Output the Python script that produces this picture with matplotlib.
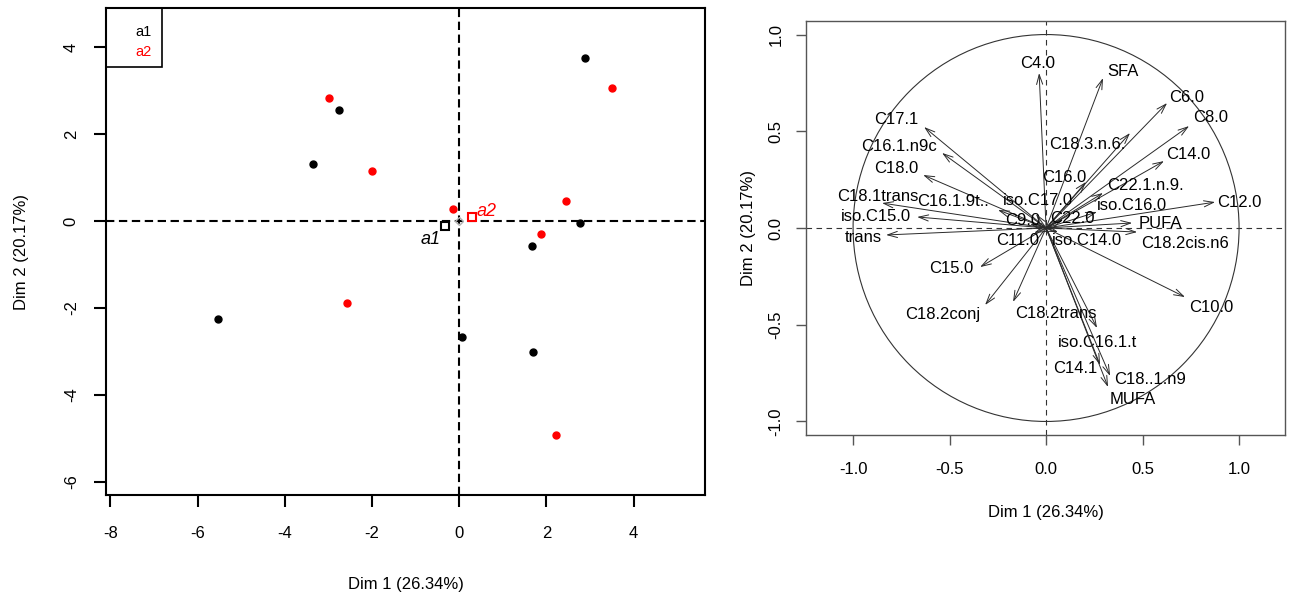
import numpy as np
import matplotlib
matplotlib.use("Agg")
import matplotlib.pyplot as plt
from matplotlib.patches import Circle, Rectangle

plt.rcParams["font.family"] = ["Liberation Sans", "DejaVu Sans"]
plt.rcParams["axes.unicode_minus"] = False

# ---- individuals (PCA scores) grouped by factor level ----
a1_dim1 = [2.89, -2.75, -3.35, 2.78, 1.67, -5.53, 0.07, 1.70]
a1_dim2 = [3.76, 2.56, 1.31, -0.05, -0.58, -2.26, -2.67, -3.02]
a2_dim1 = [-2.98, 3.51, -2.00, -0.14, 2.45, 1.88, -2.57, 2.22]
a2_dim2 = [2.83, 3.06, 1.15, 0.28, 0.46, -0.30, -1.89, -4.93]
groups = ["a1", "a2"]
group_colors = ["black", "red"]

left_xticks = [-8, -6, -4, -2, 0, 2, 4]
left_yticks = [-6, -4, -2, 0, 2, 4]

# ---- variables (correlation circle) ----
var_names = ["C4.0", "SFA", "C6.0", "C8.0", "C18.3.n.6.", "C14.0", "C16.0",
             "C22.1.n.9.", "iso.C16.0", "C12.0", "PUFA", "C18.2cis.n6", "C10.0",
             "iso.C16.1.t", "C14.1", "C18..1.n9", "MUFA", "C17.1", "C16.1.n9c",
             "C18.0", "C18.1trans", "C16.1.9t..", "iso.C15.0", "trans", "C15.0",
             "C18.2conj", "C18.2trans", "C9.0", "C11.0", "iso.C14.0", "C22.0",
             "iso.C17.0"]
var_dim1 = [-0.036, 0.295, 0.627, 0.741, 0.435, 0.611, 0.207,
            0.295, 0.264, 0.876, 0.446, 0.472, 0.720,
            0.264, 0.280, 0.332, 0.321, -0.632, -0.539,
            -0.637, -0.850, -0.249, -0.668, -0.829, -0.342,
            -0.316, -0.171, -0.083, -0.062, 0.062, 0.083,
            -0.052]
var_dim2 = [0.801, 0.775, 0.646, 0.527, 0.491, 0.346, 0.238,
            0.181, 0.083, 0.134, 0.026, -0.021, -0.357,
            -0.517, -0.708, -0.765, -0.822, 0.522, 0.388,
            0.274, 0.129, 0.093, 0.057, -0.036, -0.202,
            -0.398, -0.382, 0.021, -0.026, -0.021, 0.041,
            0.072]

right_ticks = [-1.0, -0.5, 0.0, 0.5, 1.0]
xlab = "Dim 1 (26.34%)"
ylab = "Dim 2 (20.17%)"

# label placement (pixel offsets from arrow tips, chosen to avoid overlaps)
label_offsets = {
    "C4.0": (-2, 10), "SFA": (20, 7), "C6.0": (20, 6), "C8.0": (22, 9),
    "C18.3.n.6.": (-43, -11), "C14.0": (24, 7), "C16.0": (-22, 4),
    "C22.1.n.9.": (42, 7), "iso.C16.0": (35, 6), "C12.0": (24, 0),
    "PUFA": (28, -1), "C18.2cis.n6": (48, -11), "C10.0": (26, -10),
    "iso.C16.1.t": (0, -14), "C14.1": (-25, -4), "C18..1.n9": (40, -4),
    "MUFA": (25, -12), "C17.1": (-28, 8), "C16.1.n9c": (-43, 6),
    "C18.0": (-27, 6), "C18.1trans": (-4, 7), "C16.1.9t..": (-45, 9),
    "iso.C15.0": (-41, 0), "trans": (-23, -3), "C15.0": (-29, -1),
    "C18.2conj": (-42, -10), "C18.2trans": (43, -12), "C9.0": (-7, 3),
    "C11.0": (-16, -7), "iso.C14.0": (29, -8), "C22.0": (10, 2),
    "iso.C17.0": (2, 14),
}

W, H = 1290, 595
fig = plt.figure(figsize=(W / 100, H / 100), dpi=100)

# ================= individuals factor map =================
ax1 = fig.add_axes([106 / W, (H - 495) / H, 599 / W, 487 / H])
ax1.set_xlim(-8.1, 5.64)
ax1.set_ylim(-6.3, 4.9)
ax1.axhline(0, color="black", lw=1.5, ls=(0, (4, 2.2)), zorder=1)
ax1.axvline(0, color="black", lw=1.5, ls=(0, (4, 2.2)), zorder=1)

xs = [a1_dim1, a2_dim1]
ys = [a1_dim2, a2_dim2]
for g, col, gx, gy in zip(groups, group_colors, xs, ys):
    ax1.plot(gx, gy, "o", color=col, ms=5, zorder=3)

# overall barycentre
ax1.plot([0], [0], "D", ms=4, mfc="none", mec="#b0b0b0", mew=1, zorder=2)

# group barycentres
cent_offsets = {"a1": (-15, -13), "a2": (15, 6)}
for g, col, gx, gy in zip(groups, group_colors, xs, ys):
    cx, cy = np.mean(gx), np.mean(gy)
    ax1.plot([cx], [cy], "s", ms=6, mfc="white", mec=col, mew=1.5, zorder=4)
    ax1.annotate(g, (cx, cy), xytext=cent_offsets[g], textcoords="offset pixels",
                 ha="center", va="center", color=col, fontsize=13, style="italic")

# legend box
ax1.add_patch(Rectangle((0, 1 - 59 / 487), 56 / 599, 59 / 487, transform=ax1.transAxes,
                        fill=False, edgecolor="black", lw=1.2, clip_on=False, zorder=5))
for i, (g, col) in enumerate(zip(groups, group_colors)):
    ax1.text((152 - 106) / 599, 1 - (24 + 20 * i) / 487, g, color=col,
             ha="right", va="center", fontsize=10.5, transform=ax1.transAxes)

ax1.set_xticks(left_xticks)
ax1.set_yticks(left_yticks)
for s in ax1.spines.values():
    s.set_linewidth(1.5)
ax1.tick_params(axis="both", length=8.6, width=1.5, labelsize=12)
ax1.tick_params(axis="x", pad=14)
ax1.tick_params(axis="y", pad=11, labelrotation=90)
for lab in ax1.get_yticklabels():
    lab.set_va("center")
ax1.set_xlabel(xlab, fontsize=12)
ax1.set_ylabel(ylab, fontsize=12)
ax1.xaxis.label.set_va("center")
ax1.yaxis.label.set_va("center")
ax1.xaxis.set_label_coords(0.5, (495 - 584) / 487)
ax1.yaxis.set_label_coords((21 - 106) / 599, 0.5)

# ================= variables factor map =================
ax2 = fig.add_axes([806 / W, (H - 435) / H, 479 / W, 414 / H])
ax2.set_xlim(-1.244, 1.238)
ax2.set_ylim(-1.07, 1.07)
ax2.axhline(0, color="#333333", lw=0.8, ls=(0, (5, 4)), zorder=1)
ax2.axvline(0, color="#333333", lw=0.8, ls=(0, (5, 4)), zorder=1)
ax2.add_patch(Circle((0, 0), 1, fill=False, edgecolor="#333333", lw=0.8))

for name, vx, vy in zip(var_names, var_dim1, var_dim2):
    ax2.annotate("", xy=(vx, vy), xytext=(0, 0),
                 arrowprops=dict(arrowstyle="->,head_length=0.7,head_width=0.22",
                                 color="#2a2a2a", lw=0.7, shrinkA=0, shrinkB=0))
    ax2.annotate(name, (vx, vy), xytext=label_offsets[name], textcoords="offset pixels",
                 ha="center", va="center", fontsize=12, color="black")

ax2.set_xticks(right_ticks)
ax2.set_yticks(right_ticks)
ax2.set_xticklabels([f"{t:.1f}" for t in right_ticks])
ax2.set_yticklabels([f"{t:.1f}" for t in right_ticks])
for s in ax2.spines.values():
    s.set_linewidth(1.0)
    s.set_color("#555555")
ax2.tick_params(axis="both", length=7.2, width=1.0, color="#555555", labelsize=12)
ax2.tick_params(axis="x", pad=12)
ax2.tick_params(axis="y", pad=9, labelrotation=90)
for lab in ax2.get_yticklabels():
    lab.set_va("center")
ax2.set_xlabel(xlab, fontsize=12)
ax2.set_ylabel(ylab, fontsize=12)
ax2.xaxis.label.set_va("center")
ax2.yaxis.label.set_va("center")
ax2.xaxis.set_label_coords(0.5, (435 - 512) / 414)
ax2.yaxis.set_label_coords((749 - 806) / 479, 0.5)

fig.savefig("out.png", dpi=100, facecolor="white")
